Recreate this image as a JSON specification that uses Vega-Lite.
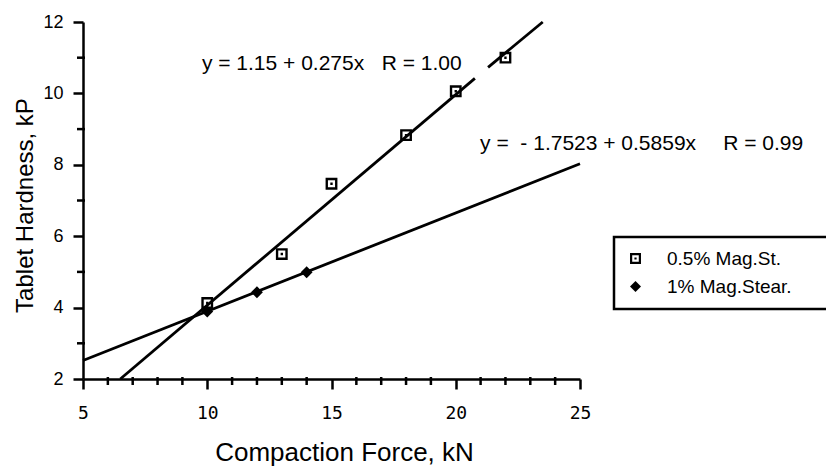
{
  "$schema": "https://vega.github.io/schema/vega-lite/v6.json",
  "autosize": {"type": "none"},
  "padding": {"left": 83, "top": 22, "right": 246, "bottom": 87},
  "width": 497,
  "height": 357,
  "background": "white",
  "config": {
    "view": {"stroke": null},
    "font": "Liberation Sans",
    "axis": {
      "grid": false,
      "ticks": true,
      "domainColor": "black",
      "domainWidth": 2.5,
      "tickColor": "black",
      "tickWidth": 2.5,
      "tickSize": 10,
      "labelColor": "black",
      "titleColor": "black",
      "titleFont": "Liberation Sans",
      "titleFontWeight": "normal",
      "labelOverlap": false,
      "labelFlush": false
    },
    "legend": {
      "strokeColor": "black",
      "strokeWidth": 2.5,
      "fillColor": "white",
      "padding": 12,
      "labelFont": "Liberation Sans",
      "labelFontSize": 19,
      "labelColor": "black",
      "labelOffset": 22,
      "rowPadding": 8,
      "symbolSize": 120
    }
  },
  "datasets": {
    "lines": [
      {"force": 6.5, "hardness": 2.0, "line": "A1"},
      {"force": 20.77, "hardness": 10.42, "line": "A1"},
      {"force": 21.3, "hardness": 10.73, "line": "A2"},
      {"force": 23.5, "hardness": 12.0, "line": "A2"},
      {"force": 5, "hardness": 2.52, "line": "B"},
      {"force": 25, "hardness": 8.03, "line": "B"}
    ],
    "points": [
      {"force": 10, "hardness": 4.13, "series": "0.5% Mag.St."},
      {"force": 13, "hardness": 5.5, "series": "0.5% Mag.St."},
      {"force": 15, "hardness": 7.47, "series": "0.5% Mag.St."},
      {"force": 18, "hardness": 8.83, "series": "0.5% Mag.St."},
      {"force": 20, "hardness": 10.06, "series": "0.5% Mag.St."},
      {"force": 22, "hardness": 11.0, "series": "0.5% Mag.St."},
      {"force": 10, "hardness": 3.89, "series": "1% Mag.Stear."},
      {"force": 12, "hardness": 4.43, "series": "1% Mag.Stear."},
      {"force": 14, "hardness": 4.99, "series": "1% Mag.Stear."}
    ],
    "labels": [
      {"force": 9.785, "hardness": 10.83, "text": "y = 1.15 + 0.275x"},
      {"force": 17.02, "hardness": 10.83, "text": "R = 1.00"},
      {"force": 20.98, "hardness": 8.57, "text": "y =\u00a0\u00a0- 1.7523 + 0.5859x"},
      {"force": 30.76, "hardness": 8.57, "text": "R = 0.99"}
    ],
    "xminor": [
      {"force": 6, "hardness": 2}, {"force": 7, "hardness": 2}, {"force": 8, "hardness": 2}, {"force": 9, "hardness": 2},
      {"force": 11, "hardness": 2}, {"force": 12, "hardness": 2}, {"force": 13, "hardness": 2}, {"force": 14, "hardness": 2},
      {"force": 16, "hardness": 2}, {"force": 17, "hardness": 2}, {"force": 18, "hardness": 2}, {"force": 19, "hardness": 2},
      {"force": 21, "hardness": 2}, {"force": 22, "hardness": 2}, {"force": 23, "hardness": 2}, {"force": 24, "hardness": 2}
    ],
    "yminor": [
      {"force": 5, "hardness": 3}, {"force": 5, "hardness": 5}, {"force": 5, "hardness": 7},
      {"force": 5, "hardness": 9}, {"force": 5, "hardness": 11}
    ]
  },
  "encoding": {
    "x": {
      "field": "force",
      "type": "quantitative",
      "scale": {"domain": [5, 25], "nice": false, "zero": false},
      "axis": {
        "title": "Compaction Force, kN",
        "titleFontSize": 26,
        "titleX": 261,
        "titleY": 81,
        "titleAlign": "center",
        "titleBaseline": "alphabetic",
        "values": [5, 10, 15, 20, 25],
        "labelFont": "DejaVu Sans Mono",
        "labelFontSize": 18,
        "labelPadding": 15
      }
    },
    "y": {
      "field": "hardness",
      "type": "quantitative",
      "scale": {"domain": [2, 12], "nice": false, "zero": false},
      "axis": {
        "title": "Tablet Hardness, kP",
        "titleFontSize": 24,
        "titleX": -51,
        "titleY": 183,
        "titleAngle": -90,
        "titleAlign": "center",
        "titleBaseline": "alphabetic",
        "values": [2, 4, 6, 8, 10, 12],
        "labelFontSize": 18,
        "labelPadding": 10
      }
    }
  },
  "layer": [
    {
      "data": {"name": "xminor"},
      "mark": {"type": "tick", "orient": "vertical", "color": "black", "size": 8, "thickness": 2.5, "yOffset": 2, "opacity": 1}
    },
    {
      "data": {"name": "yminor"},
      "mark": {"type": "tick", "orient": "horizontal", "color": "black", "size": 8, "thickness": 2.5, "xOffset": -2, "opacity": 1}
    },
    {
      "data": {"name": "lines"},
      "mark": {"type": "line", "color": "black", "strokeWidth": 2.8},
      "encoding": {"detail": {"field": "line"}}
    },
    {
      "data": {"name": "points"},
      "mark": {"type": "point", "filled": true, "color": "black", "opacity": 1, "size": 140},
      "encoding": {
        "shape": {
          "field": "series",
          "type": "nominal",
          "scale": {"domain": ["0.5% Mag.St.", "1% Mag.Stear."], "range": ["M-1,-1H1V1H-1Z M-0.6,-0.6V0.6H0.6V-0.6Z M-0.2,-0.2H0.2V0.2H-0.2Z", "diamond"]},
          "legend": {
            "title": "\u00a0",
            "titleOrient": "right",
            "titlePadding": 40,
            "titleFontSize": 10,
            "orient": "none",
            "legendX": 531,
            "legendY": 215
          }
        }
      }
    },
    {
      "data": {"name": "labels"},
      "mark": {"type": "text", "align": "left", "baseline": "middle", "fontSize": 21, "font": "Liberation Sans", "color": "black"},
      "encoding": {"text": {"field": "text"}}
    }
  ]
}
